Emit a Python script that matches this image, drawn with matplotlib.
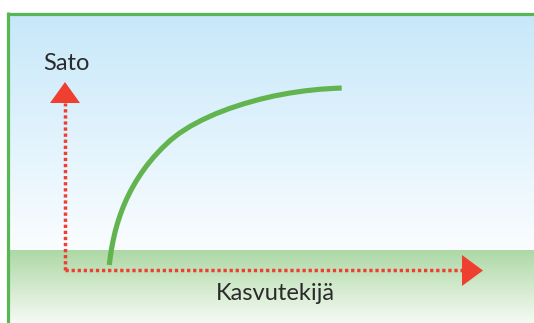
import numpy as np
import matplotlib
matplotlib.use("Agg")
import matplotlib.pyplot as plt
from matplotlib.patches import Polygon

# ---- data (pixel-space coordinates of the schematic) ----
curve_x = [109.3, 110.3, 111.6, 113.2, 115.1, 117.4, 120.1, 123.2, 126.8, 130.9, 135.6,
           140.9, 146.9, 153.7, 161.4, 170.1, 179.4, 190.4, 202.4, 215.4, 229.4,
           244.4, 259.4, 274.4, 289.4, 304.4, 319.4, 331.4, 341.7]
curve_y = [265.0, 256.7, 248.4, 240.1, 231.8, 223.5, 215.2, 206.9, 198.6, 190.3, 182.0,
           173.7, 165.4, 157.1, 148.8, 140.5, 133.2, 126.2, 119.8, 113.9, 108.5,
           103.6, 99.4, 95.9, 93.1, 90.9, 89.3, 88.5, 88.0]
origin = (65, 270)
y_axis_end = 103
x_axis_end = 462
y_label = "Sato"
x_label = "Kasvutekijä"

W, H = 534, 323
fig = plt.figure(figsize=(W / 100, H / 100), dpi=100)
ax = fig.add_axes([0, 0, 1, 1])
ax.set_xlim(0, W)
ax.set_ylim(H, 0)
ax.axis("off")
fig.patch.set_facecolor("white")

def vgrad(c0, c1, n=256):
    c0 = np.array(c0) / 255.0
    c1 = np.array(c1) / 255.0
    t = np.linspace(0, 1, n)[:, None]
    g = c0 * (1 - t) + c1 * t
    return np.repeat(g[:, None, :], 2, axis=1)

# sky
ax.imshow(vgrad((199, 232, 250), (250, 253, 255)), extent=(8, W, 250, 14),
          aspect="auto", interpolation="bilinear", zorder=0)
# ground
ax.imshow(vgrad((173, 216, 165), (246, 250, 244)), extent=(8, W, H, 250),
          aspect="auto", interpolation="bilinear", zorder=0)

# border (top and left)
ax.plot([7.5, W], [13.5, 13.5], color="#55b855", lw=2.3, solid_capstyle="butt", zorder=1)
ax.plot([7.5, 7.5], [12.3, H], color="#55b855", lw=2.3, solid_capstyle="butt", zorder=1)

red = "#ef3f31"
ox, oy = origin
ax.plot([ox, ox], [oy, y_axis_end], color=red, lw=2.5, linestyle=(0, (0.95, 0.8)),
        dash_capstyle="butt", zorder=2)
ax.plot([ox, x_axis_end], [oy, oy], color=red, lw=2.5, linestyle=(0, (0.95, 0.8)),
        dash_capstyle="butt", zorder=2)
ax.add_patch(Polygon([[50, y_axis_end], [80, y_axis_end], [65, 82]], closed=True,
                     facecolor=red, edgecolor="none", zorder=3))
ax.add_patch(Polygon([[x_axis_end, 255], [x_axis_end, 286], [483, 270.5]], closed=True,
                     facecolor=red, edgecolor="none", zorder=3))

ax.plot(curve_x, curve_y, color="#62b44f", lw=3.7, solid_capstyle="butt",
        solid_joinstyle="round", zorder=4)

ax.text(66, 63, y_label, family="Lato", fontsize=17, color="#2b2b2b",
        ha="center", va="center", zorder=5)
ax.text(275, 294, x_label, family="Lato", fontsize=17, color="#2b2b2b",
        ha="center", va="center", zorder=5)

fig.savefig("out.png", dpi=100)
